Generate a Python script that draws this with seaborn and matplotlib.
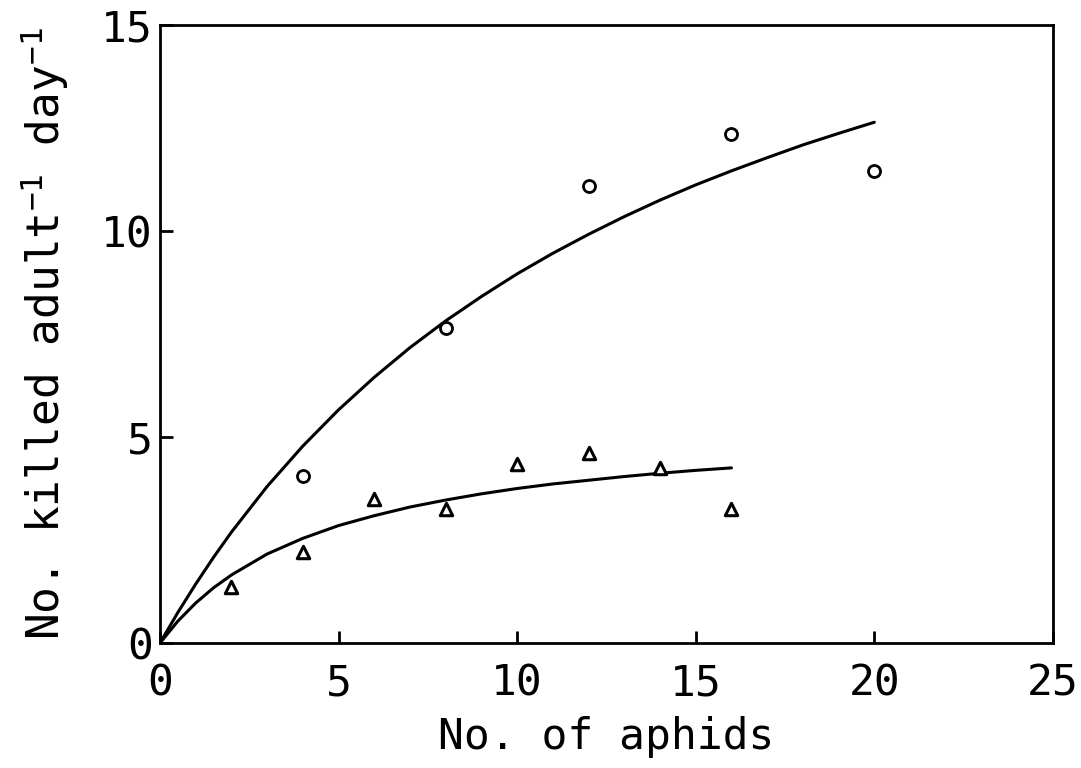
import matplotlib
matplotlib.use("Agg")
import matplotlib.pyplot as plt
import seaborn as sns
import pandas as pd

# Observed points
circle_x = [4, 8, 12, 16, 20]
circle_y = [4.05, 7.65, 11.1, 12.35, 11.45]
tri_x = [2, 4, 6, 8, 10, 12, 14, 16]
tri_y = [1.35, 2.2, 3.5, 3.25, 4.35, 4.6, 4.25, 3.25]

# Fitted curves
upper_x = [0, 0.5, 1, 1.5, 2, 3, 4, 5, 6, 7, 8, 9, 10, 11, 12, 13, 14, 15, 16, 17, 18, 19, 20]
upper_y = [0, 0.74, 1.43, 2.08, 2.69, 3.80, 4.78, 5.66, 6.45, 7.17, 7.82, 8.41, 8.96,
           9.46, 9.92, 10.35, 10.75, 11.12, 11.46, 11.78, 12.09, 12.37, 12.64]
lower_x = [0, 0.5, 1, 1.5, 2, 3, 4, 5, 6, 7, 8, 9, 10, 11, 12, 13, 14, 15, 16]
lower_y = [0, 0.53, 0.97, 1.34, 1.65, 2.16, 2.54, 2.85, 3.09, 3.30, 3.47, 3.62, 3.75,
           3.86, 3.95, 4.04, 4.12, 4.19, 4.25]

x_ticks = [0, 5, 10, 15, 20, 25]
y_ticks = [0, 5, 10, 15]

sns.set_theme(style="ticks")
plt.rcParams["font.family"] = ["DejaVu Sans Mono", "DejaVu Sans"]
plt.rcParams["mathtext.default"] = "regular"
plt.rcParams["text.color"] = "black"
plt.rcParams["axes.labelcolor"] = "black"

fig = plt.figure(figsize=(10.81, 7.68), dpi=100)
ax = fig.add_axes([0.148, 0.1628, 0.826, 0.8046])

sns.lineplot(x=upper_x, y=upper_y, ax=ax, color="black", lw=2.2, sort=False)
sns.lineplot(x=lower_x, y=lower_y, ax=ax, color="black", lw=2.2, sort=False)
sns.scatterplot(x=circle_x, y=circle_y, ax=ax, marker="o", s=75,
                facecolor="white", edgecolor="black", linewidth=2.0, zorder=3)
sns.scatterplot(x=tri_x, y=tri_y, ax=ax, marker="^", s=80,
                facecolor="white", edgecolor="black", linewidth=2.2, zorder=3)

ax.set_xlim(0, 25)
ax.set_ylim(0, 15)
ax.set_xticks(x_ticks)
ax.set_yticks(y_ticks)
ax.set_xticklabels([str(v) for v in x_ticks])
ax.set_yticklabels([str(v) for v in y_ticks])
for s in ax.spines.values():
    s.set_linewidth(2.0)
    s.set_color("black")
ax.tick_params(axis="both", direction="in", length=9, width=2, labelsize=31,
               colors="black", labelcolor="black")
ax.tick_params(axis="x", pad=14)
ax.tick_params(axis="y", pad=5)
ax.set_xlabel("No. of aphids", fontsize=31, labelpad=8, color="black")
ax.set_ylabel("No. killed adult$^{-1}$ day$^{-1}$", fontsize=32, labelpad=22,
              color="black")

fig.savefig("out.png", dpi=100, facecolor="white")
